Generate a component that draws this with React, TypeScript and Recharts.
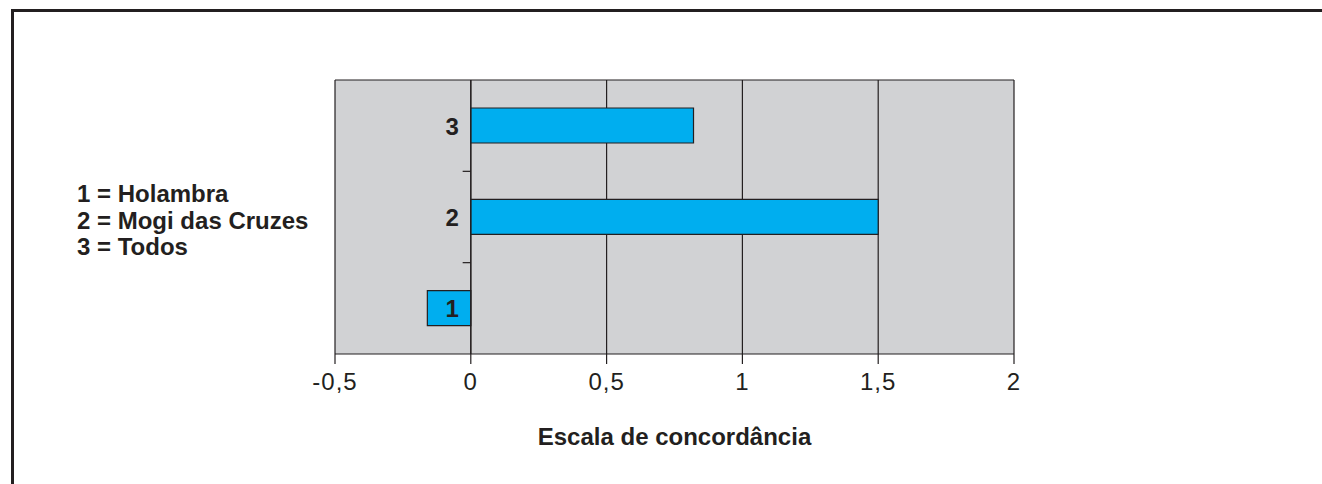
import React from 'react';
import { BarChart, Bar, XAxis, YAxis, CartesianGrid, ReferenceLine, LabelList } from 'recharts';

const categories = ['1', '2', '3'];
const groupNames = ['Holambra', 'Mogi das Cruzes', 'Todos'];
const scores = [-0.16, 1.5, 0.82];
const xTicks = [-0.5, 0, 0.5, 1, 1.5, 2];

const data = categories.map((c, i) => ({ name: c, score: scores[i] }));

const ink = '#231f20';
const font = '"Liberation Sans", Arial, sans-serif';

// category number sits just left of the zero line, whichever side the bar is on
const CategoryLabel = (props: any) => {
  const vb = props.viewBox || {};
  const x = Number(vb.x ?? props.x);
  const w = Number(vb.width ?? props.width);
  const y = Number(vb.y ?? props.y);
  const h = Number(vb.height ?? props.height);
  const v = scores[categories.indexOf(String(props.value))];
  const zero = v >= 0 ? Math.min(x, x + w) : Math.max(x, x + w);
  const cy = Math.min(y, y + h) + Math.abs(h) / 2;
  return (
    <text x={zero - 12} y={cy + 9} textAnchor="end" fill={ink} fontSize={24} fontWeight="bold" fontFamily={font}>
      {props.value}
    </text>
  );
};

const App = () => {
  return (
    <div style={{ position: 'absolute', left: 0, top: 0, width: 1322, height: 484, background: '#fff', overflow: 'hidden', fontFamily: font }}>
      <div style={{ position: 'absolute', left: 11, top: 9, width: 1400, height: 600, borderTop: `3px solid ${ink}`, borderLeft: `3px solid ${ink}` }} />

      <div style={{ position: 'absolute', left: 77, top: 181, fontSize: 24, lineHeight: '26.5px', fontWeight: 'bold', color: ink, whiteSpace: 'nowrap' }}>
        {categories.map((c, i) => (
          <div key={c}>{c} = {groupNames[i]}</div>
        ))}
      </div>

      <div style={{ position: 'absolute', left: 0, top: 0 }}>
        <BarChart
          width={1322}
          height={484}
          data={data}
          layout="vertical"
          margin={{ top: 80, right: 308, left: 335, bottom: 70 }}
          style={{ fontFamily: font }}
        >
          <CartesianGrid fill="#d1d2d4" stroke={ink} strokeWidth={1.2} horizontal={false} fillOpacity={1} />
          <XAxis
            type="number"
            domain={[-0.5, 2]}
            ticks={xTicks}
            allowDataOverflow
            height={60}
            tickSize={10}
            tickMargin={9}
            tickFormatter={(v: number) => String(v).replace('.', ',')}
            axisLine={{ stroke: ink, strokeWidth: 1.2 }}
            tickLine={{ stroke: ink, strokeWidth: 1.2 }}
            tick={{ fill: ink, fontSize: 24, fontFamily: font, letterSpacing: 1 }}
            label={{ value: 'Escala de concordância', position: 'bottom', offset: 14, fill: ink, fontSize: 24, fontWeight: 'bold', fontFamily: font }}
          />
          <YAxis type="category" dataKey="name" reversed hide width={0} />
          <Bar dataKey="score" fill="#00aeef" stroke={ink} strokeWidth={1.2} barSize={35} isAnimationActive={false}>
            <LabelList dataKey="name" content={CategoryLabel} />
          </Bar>
          <ReferenceLine y="3" position="start" stroke={ink} strokeWidth={1.2} />
          <ReferenceLine x={0} stroke={ink} strokeWidth={1.2} />
          {['1', '2'].map((c) => (
            <ReferenceLine
              key={c}
              position="start"
              segment={[{ x: -0.03, y: c }, { x: 0, y: c }]}
              stroke={ink}
              strokeWidth={1.2}
            />
          ))}
        </BarChart>
      </div>
    </div>
  );
};

export default App;
